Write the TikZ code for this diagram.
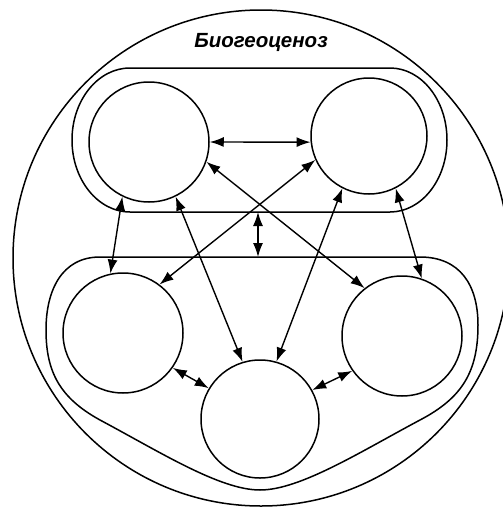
\documentclass[tikz,border=0pt]{standalone}
\usepackage{fontspec}
\newfontfamily\titlefont{Liberation Sans}
\usetikzlibrary{arrows.meta}
\begin{document}
\begin{tikzpicture}[x=1pt,y=-1pt,
  line width=1.5pt,
  comp/.style={circle,draw,line width=1.5pt,inner sep=0pt,minimum size=#1},
  link/.style={{Latex[length=14pt,width=10pt]}-{Latex[length=14pt,width=10pt]},line width=1.4pt}]
\useasboundingbox (0,0) rectangle (503,509);
% outer biogeocenosis boundary
\draw (261,258) circle[radius=248];
\node[font={\titlefont\bfseries\itshape\fontsize{20.5}{22}\selectfont}] (title) at (261,42) {Биогеоценоз};
% upper group
\draw (130,68) -- (390,68) arc[start angle=90,end angle=-90,x radius=57,y radius=-72] -- (130,212) arc[start angle=-90,end angle=-270,x radius=58,y radius=-72] -- cycle;
% lower group
\draw (100,257) .. controls (62,257) and (46,290) .. (46,330)
  .. controls (46,372) and (60,398) .. (100,420)
  .. controls (160,452) and (220,490) .. (260,490)
  .. controls (300,490) and (360,452) .. (420,420)
  .. controls (462,398) and (478,372) .. (478,325)
  .. controls (478,285) and (460,257) .. (420,257) -- cycle;
% components
\node[comp=120pt] (TL) at (149,142) {};
\node[comp=116pt] (TR) at (369,136) {};
\node[comp=120pt] (BL) at (123,333) {};
\node[comp=120pt] (BR) at (402,336) {};
\node[comp=118pt] (BC) at (260,419) {};
\coordinate (m1) at (258,212);
\coordinate (m2) at (258,257);
% links
\draw[link] (TL.0) -- (TR.186);
\draw[link] (TL.-116) -- (BL.102);
\draw[link] (TL.-64) -- (BC.107);
\draw[link] (TL.-19) -- (BR.128);
\draw[link] (TR.-156) -- (BL.53);
\draw[link] (TR.-117) -- (BC.74);
\draw[link] (TR.-63) -- (BR.71);
\draw[link] (BL.-35) -- (BC.149);
\draw[link] (BR.-145) -- (BC.29);
\draw[link] (m1) -- (m2);
\end{tikzpicture}
\end{document}
